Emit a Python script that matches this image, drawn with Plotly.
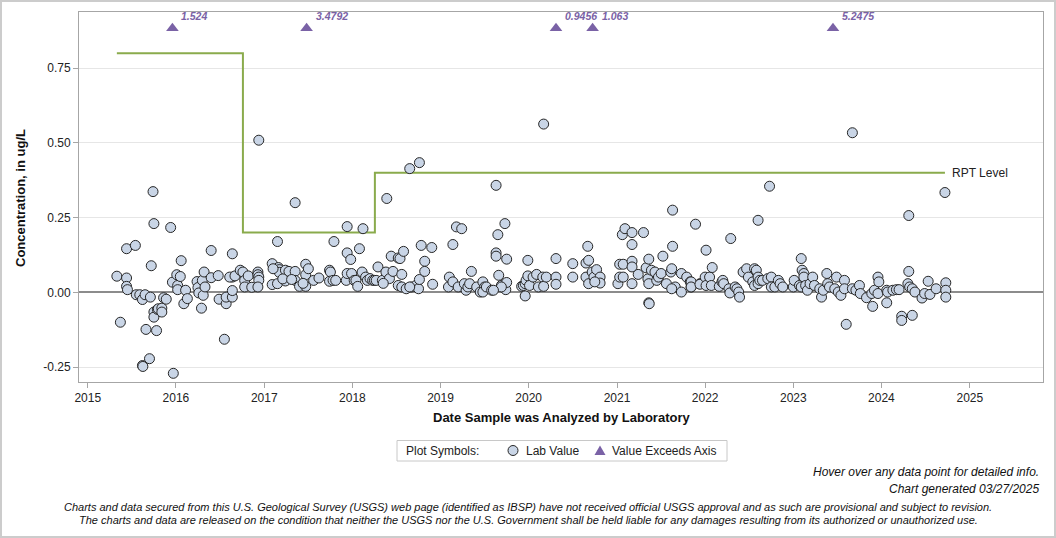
import datetime as dt
import plotly.graph_objects as go

# ---------------- data ----------------
# Lab values: decimal year of analysis, concentration (ug/L)
lab_years = [
    2015.33, 2015.37, 2015.44, 2015.44, 2015.44, 2015.45, 2015.54, 2015.55, 2015.59, 2015.62,
    2015.65, 2015.62, 2015.625, 2015.70, 2015.66, 2015.71, 2015.72, 2015.74, 2015.75, 2015.75,
    2015.75, 2015.79, 2015.80, 2015.84, 2015.84, 2015.78, 2015.86, 2015.89, 2015.94, 2015.97,
    2015.96, 2016.01, 2016.02, 2016.02, 2016.05, 2016.06, 2016.09, 2016.11, 2016.13,
    2016.24, 2016.25, 2016.26, 2016.29, 2016.30, 2016.31, 2016.32, 2016.33, 2016.40, 2016.40,
    2016.48, 2016.49, 2016.55, 2016.57, 2016.57, 2016.64, 2016.64, 2016.64, 2016.61, 2016.64,
    2016.67, 2016.73, 2016.76, 2016.78, 2016.78, 2016.82, 2016.86, 2016.93, 2016.93, 2016.94,
    2016.94, 2016.93, 2016.94,
    2017.09, 2017.09, 2017.15, 2017.15, 2017.16, 2017.17, 2017.17, 2017.24, 2017.24, 2017.28,
    2017.35, 2017.35, 2017.40, 2017.47, 2017.47, 2017.47, 2017.50, 2017.56, 2017.35, 2017.74,
    2017.75, 2017.74, 2017.78, 2017.81, 2017.79, 2017.10, 2017.21, 2017.31, 2017.44, 2017.62,
    2017.93, 2017.94, 2017.94, 2017.94, 2017.98, 2017.99, 2018.02, 2018.04, 2018.06, 2018.08,
    2018.11, 2018.12, 2018.15, 2018.17, 2018.20, 2018.23, 2018.25, 2018.27, 2018.29, 2018.34,
    2018.38, 2018.39, 2018.42, 2018.44, 2018.46, 2018.52, 2018.52, 2018.56, 2018.61, 2018.67,
    2018.72, 2018.75, 2018.76, 2018.54, 2018.58, 2018.78, 2018.82, 2018.82, 2018.56, 2018.35,
    2018.65, 2018.76, 2018.90, 2018.91, 2018.65,
    2019.14, 2019.18, 2019.24, 2019.10, 2019.09, 2019.14, 2019.20, 2019.29, 2019.27, 2019.31,
    2019.33, 2019.35, 2019.41, 2019.45, 2019.48, 2019.50, 2019.48, 2019.52, 2019.58, 2019.63,
    2019.65, 2019.73, 2019.63, 2019.63, 2019.66, 2019.75, 2019.69, 2019.74, 2019.75, 2019.69,
    2019.60,
    2019.92, 2019.94, 2019.96, 2019.96, 2019.97, 2019.99, 2019.99, 2020.01, 2020.05, 2020.09,
    2020.11, 2020.16, 2020.17, 2020.20, 2020.31, 2020.31, 2020.31, 2020.17, 2020.50, 2020.50,
    2020.67, 2020.65, 2020.68, 2020.65, 2020.68, 2020.72, 2020.74, 2020.77, 2020.79, 2020.81,
    2020.81, 2020.75,
    2021.01, 2021.03, 2021.03, 2021.07, 2021.06, 2021.09, 2021.17, 2021.17, 2021.17, 2021.17,
    2021.17, 2021.07, 2021.24, 2021.30, 2021.33, 2021.36, 2021.35, 2021.36, 2021.36, 2021.365,
    2021.39, 2021.43, 2021.45, 2021.47, 2021.50, 2021.52, 2021.56, 2021.61, 2021.62, 2021.63,
    2021.63, 2021.66, 2021.62, 2021.73, 2021.73, 2021.79, 2021.83, 2021.84, 2021.89, 2021.94,
    2021.84, 2021.84, 2021.94, 2022.00, 2022.01, 2022.05, 2022.07, 2022.08, 2022.01, 2022.16,
    2022.19, 2022.20, 2022.21, 2022.27, 2022.28, 2022.29, 2022.34, 2022.36, 2022.38, 2022.39,
    2022.43, 2022.47, 2022.49, 2022.54, 2022.56, 2022.56, 2022.58, 2022.60, 2022.60, 2022.62,
    2022.65, 2022.71, 2022.75, 2022.75, 2022.79, 2022.83, 2022.85, 2022.88, 2022.60, 2022.73,
    2023.00, 2023.01, 2023.07, 2023.09, 2023.10, 2023.12, 2023.12, 2023.14, 2023.16, 2023.19,
    2023.22, 2023.24, 2023.30, 2023.32, 2023.34, 2023.38, 2023.39, 2023.41, 2023.47, 2023.49,
    2023.51, 2023.54, 2023.58, 2023.60, 2023.58, 2023.67, 2023.71, 2023.75, 2023.76, 2023.83,
    2023.89, 2023.90, 2023.92, 2023.96, 2023.97, 2023.96, 2023.09, 2023.67,
    2024.06, 2024.06, 2024.07, 2024.13, 2024.17, 2024.20, 2024.23, 2024.23, 2024.35, 2024.30,
    2024.32, 2024.35, 2024.38, 2024.46, 2024.49, 2024.53, 2024.55, 2024.62, 2024.73, 2024.73,
    2024.73, 2024.31, 2024.31, 2024.72,
]
lab_values = [
    0.054, -0.100, 0.146, 0.048, 0.020, 0.009, 0.157, -0.008, -0.008, -0.024,
    -0.008, -0.245, -0.248, -0.222, -0.124, -0.016, 0.089, 0.337, 0.230, -0.066,
    -0.083, -0.057, -0.055, -0.053, -0.066, -0.128, -0.018, -0.023, 0.217, -0.271,
    0.034, 0.059, 0.023, 0.009, 0.053, 0.106, -0.038, 0.007, -0.021,
    0.036, 0.016, -0.002, -0.053, 0.040, -0.010, 0.068, 0.018, 0.140, 0.049,
    0.056, -0.023, -0.157, -0.038, -0.016, -0.016, 0.006, 0.051, 0.051, 0.129,
    0.055, 0.074, 0.068, 0.040, 0.018, 0.055, 0.017, 0.068, 0.059, 0.051,
    0.040, 0.018, 0.509,
    0.096, 0.026, 0.029, 0.170, 0.083, 0.076, 0.067, 0.038, 0.074, 0.070,
    0.070, 0.040, 0.020, 0.020, 0.094, 0.059, 0.079, 0.040, 0.300, 0.074,
    0.068, 0.037, 0.040, 0.040, 0.170, 0.079, 0.045, 0.043, 0.030, 0.048,
    0.040, 0.063, 0.132, 0.220, 0.110, 0.063, 0.040, 0.040, 0.020, 0.146,
    0.068, 0.213, 0.051, 0.040, 0.046, 0.040, 0.040, 0.040, 0.085, 0.040,
    0.068, 0.314, 0.046, 0.121, 0.070, 0.115, 0.023, 0.018, 0.012, 0.018,
    0.023, 0.012, 0.043, 0.113, 0.137, 0.157, 0.104, 0.070, 0.060, 0.030,
    0.414, 0.434, 0.150, 0.027, 0.018,
    0.160, 0.219, 0.213, 0.051, 0.018, 0.035, 0.018, 0.007, 0.029, 0.018,
    0.029, 0.070, 0.018, 0.001, 0.035, 0.018, 0.001, 0.018, 0.007, 0.358,
    0.193, 0.230, 0.132, 0.121, 0.057, 0.111, 0.023, 0.009, 0.033, 0.018,
    0.007,
    0.020, 0.023, 0.029, -0.012, 0.040, 0.107, 0.055, 0.023, 0.051, 0.060,
    0.018, 0.051, 0.020, 0.051, 0.113, 0.051, 0.027, 0.563, 0.096, 0.051,
    0.154, 0.098, 0.107, 0.051, 0.029, 0.068, 0.051, 0.076, 0.035, 0.051,
    0.031, 0.035,
    0.029, 0.051, 0.094, 0.094, 0.193, 0.213, 0.200, 0.160, 0.104, 0.085,
    0.029, 0.051, 0.060, 0.200, 0.082, 0.111, 0.045, 0.029, -0.035, -0.038,
    0.074, 0.068, 0.040, 0.051, 0.063, 0.121, 0.029, 0.068, 0.079, 0.154,
    0.275, 0.018, 0.012, 0.063, 0.001, 0.051, 0.035, 0.018, 0.228, 0.029,
    0.035, 0.018, 0.027, 0.051, 0.023, 0.051, 0.023, 0.083, 0.141, 0.020,
    0.035, 0.040, 0.029, 0.012, -0.002, 0.180, 0.018, 0.012, 0.001, -0.016,
    0.068, 0.079, 0.051, 0.035, 0.023, 0.079, 0.074, 0.051, 0.029, 0.040,
    0.040, 0.046, 0.051, 0.018, 0.018, 0.040, 0.029, 0.018, 0.241, 0.355,
    0.018, 0.040, 0.023, 0.018, 0.074, 0.063, 0.051, 0.023, 0.007, 0.029,
    0.051, 0.023, 0.012, -0.016, 0.007, 0.063, 0.029, 0.018, 0.012, 0.051,
    0.001, -0.010, 0.040, -0.107, 0.012, 0.012, 0.007, 0.023, -0.004, -0.018,
    -0.004, -0.047, 0.007, 0.051, 0.035, -0.004, 0.113, 0.534,
    0.007, -0.035, 0.001, 0.007, 0.009, 0.009, -0.080, -0.094, -0.077, 0.029,
    0.018, 0.012, 0.001, -0.019, -0.004, 0.037, -0.007, 0.012, 0.032, 0.007,
    -0.016, 0.257, 0.070, 0.334,
]

# Values that exceed the axis (shown as triangles at the top of the plot)
exceed_years = [2015.96, 2017.48, 2020.31, 2020.725, 2023.45]
exceed_values = [1.524, 3.4792, 0.9456, 1.063, 5.2475]

# Reporting level (step line)
rpt_years = [2015.33, 2016.76, 2018.255, 2024.72]
rpt_values = [0.80, 0.20, 0.40, 0.40]

# Axis ticks
y_tick_vals = [-0.25, 0.0, 0.25, 0.50, 0.75]
y_tick_text = ["-0.25", "0.00", "0.25", "0.50", "0.75"]

# ---------------- helpers ----------------
def to_date(y):
    year = int(y)
    start = dt.datetime(year, 1, 1)
    return start + dt.timedelta(days=(y - year) * 365.25)

W, H = 1056, 538
ML, MR, MT, MB = 79, 13, 12, 156
PW, PH = W - ML - MR, H - MT - MB

def px_x(x):  # page pixel -> paper x
    return (x - ML) / PW

def px_y(y):  # page pixel -> paper y
    return (H - MB - y) / PH

FONT = "Liberation Sans, Arial, sans-serif"
PURPLE = "#7a62a6"
GREEN = "#8aab4c"
FILL = "#c9d5e6"
CAP_Y = 0.884  # display level of triangles (top of plot)

lab_dates = [to_date(v) for v in lab_years]
exceed_dates = [to_date(v) for v in exceed_years]
rpt_dates = [to_date(v) for v in rpt_years]

fig = go.Figure()

fig.add_trace(go.Scatter(
    x=rpt_dates, y=rpt_values, mode="lines", line=dict(color=GREEN, width=2, shape="hv"),
    showlegend=False, hoverinfo="skip"))

fig.add_trace(go.Scatter(
    x=lab_dates, y=lab_values, mode="markers", name="Lab Value", showlegend=False,
    marker=dict(symbol="circle", size=10, color=FILL,
                line=dict(color="#262626", width=1)),
    hovertemplate="%{x|%m/%d/%Y}<br>%{y:.4f} ug/L<extra></extra>"))

fig.add_trace(go.Scatter(
    x=exceed_dates, y=[CAP_Y] * len(exceed_dates), mode="markers", name="Value Exceeds Axis",
    showlegend=False,
    marker=dict(symbol="triangle-up", size=11, color=PURPLE, line=dict(width=0)),
    customdata=exceed_values,
    hovertemplate="%{x|%m/%d/%Y}<br>%{customdata} ug/L<extra></extra>"))

annotations = []
for d, v in zip(exceed_dates, exceed_values):
    annotations.append(dict(
        x=d, y=CAP_Y, xref="x", yref="y", text=f"<b><i>{v}</i></b>", showarrow=False,
        xanchor="left", yanchor="middle", xshift=7, yshift=12,
        font=dict(family=FONT, size=10.5, color=PURPLE)))

annotations.append(dict(
    x=rpt_dates[-1], y=rpt_values[-1], xref="x", yref="y", text="RPT Level", showarrow=False,
    xanchor="left", yanchor="middle", xshift=5, font=dict(family=FONT, size=12, color="#222")))

annotations += [
    dict(x=0.5, y=px_y(418), xref="paper", yref="paper", text="<b>Date Sample was Analyzed by Laboratory</b>",
         showarrow=False, xanchor="center", yanchor="middle", font=dict(family=FONT, size=13, color="#111")),
    dict(x=px_x(20), y=px_y(198), xref="paper", yref="paper", text="<b>Concentration, in ug/L</b>",
         showarrow=False, textangle=-90, xanchor="center", yanchor="middle",
         font=dict(family=FONT, size=13, color="#111")),
    dict(x=px_x(1041), y=px_y(472), xref="paper", yref="paper", text="<i>Hover over any data point for detailed info.</i>",
         showarrow=False, xanchor="right", yanchor="middle", font=dict(family=FONT, size=12, color="#111")),
    dict(x=px_x(1041), y=px_y(489), xref="paper", yref="paper", text="<i>Chart generated 03/27/2025</i>",
         showarrow=False, xanchor="right", yanchor="middle", font=dict(family=FONT, size=12, color="#111")),
    dict(x=px_x(528), y=px_y(507), xref="paper", yref="paper",
         text="<i>Charts and data secured from this U.S. Geological Survey (USGS) web page (identified as IBSP) have not received official USGS approval and as such are provisional and subject to revision.</i>",
         showarrow=False, xanchor="center", yanchor="middle", font=dict(family=FONT, size=11, color="#111")),
    dict(x=px_x(528), y=px_y(520), xref="paper", yref="paper",
         text="<i>The charts and data are released on the condition that neither the USGS nor the U.S. Government shall be held liable for any damages resulting from its authorized or unauthorized use.</i>",
         showarrow=False, xanchor="center", yanchor="middle", font=dict(family=FONT, size=11, color="#111")),
    # hand-made legend texts
    dict(x=px_x(404), y=px_y(450.5), xref="paper", yref="paper", text="Plot Symbols:",
         showarrow=False, xanchor="left", yanchor="middle", font=dict(family=FONT, size=12, color="#222")),
    dict(x=px_x(524), y=px_y(450.5), xref="paper", yref="paper", text="Lab Value",
         showarrow=False, xanchor="left", yanchor="middle", font=dict(family=FONT, size=12, color="#222")),
    dict(x=px_x(610), y=px_y(450.5), xref="paper", yref="paper", text="Value Exceeds Axis",
         showarrow=False, xanchor="left", yanchor="middle", font=dict(family=FONT, size=12, color="#222")),
]

shapes = [
    # outer page border
    dict(type="rect", xref="paper", yref="paper",
         x0=px_x(1), x1=px_x(1055), y0=px_y(537), y1=px_y(1),
         line=dict(color="#cccccc", width=2), fillcolor="rgba(0,0,0,0)", layer="below"),
    # legend box
    dict(type="rect", xref="paper", yref="paper",
         x0=px_x(397), x1=px_x(727), y0=px_y(461), y1=px_y(440.5),
         line=dict(color="#c8c8c8", width=1), fillcolor="white", layer="below"),
    # legend circle symbol
    dict(type="circle", xref="paper", yref="paper", xsizemode="pixel", ysizemode="pixel",
         xanchor=px_x(513), yanchor=px_y(450.5), x0=-5, x1=5, y0=-5, y1=5,
         line=dict(color="#262626", width=1), fillcolor=FILL),
    # legend triangle symbol
    dict(type="path", xref="paper", yref="paper", xsizemode="pixel", ysizemode="pixel",
         xanchor=px_x(600), yanchor=px_y(450.5), path="M -5.5,-4.5 L 5.5,-4.5 L 0,5 Z",
         line=dict(width=0), fillcolor=PURPLE),
]

fig.update_layout(
    width=W, height=H,
    margin=dict(l=ML, r=MR, t=MT, b=MB),
    paper_bgcolor="white", plot_bgcolor="white",
    font=dict(family=FONT, size=12, color="#222"),
    showlegend=False,
    annotations=annotations,
    shapes=shapes,
    xaxis=dict(
        type="date", range=[to_date(2014.9), to_date(2025.83)],
        dtick="M12", tick0="2015-01-01", tickformat="%Y",
        showgrid=False, zeroline=False,
        showline=True, linecolor="#a6a6a6", linewidth=1, mirror=True,
        ticks="outside", ticklen=5, tickcolor="#a6a6a6",
        tickfont=dict(family=FONT, size=12, color="#222")),
    yaxis=dict(
        range=[-0.30, 0.938], tickvals=y_tick_vals, ticktext=y_tick_text,
        showgrid=True, gridcolor="#e6e6e6", gridwidth=1,
        zeroline=True, zerolinecolor="#8c8c8c", zerolinewidth=2,
        showline=True, linecolor="#a6a6a6", linewidth=1, mirror=True,
        ticks="outside", ticklen=5, tickcolor="#a6a6a6",
        tickfont=dict(family=FONT, size=12, color="#222")),
)

fig.write_html("out.html")
